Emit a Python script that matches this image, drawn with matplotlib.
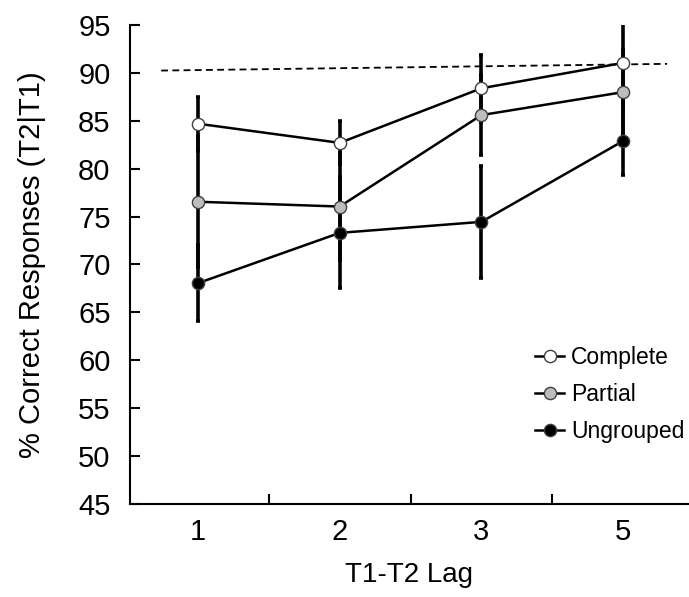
import matplotlib
matplotlib.use("Agg")
import matplotlib.pyplot as plt
import numpy as np

plt.rcParams['font.family'] = ['Liberation Sans', 'DejaVu Sans']

# data
lags = ['1', '2', '3', '5']
complete = [84.7, 82.7, 88.4, 91.05]
complete_err = [2.8, 2.25, 3.5, 4.2]
partial = [76.55, 76.05, 85.6, 88.0]
partial_err = [6.85, 5.6, 4.15, 4.4]
ungrouped = [68.05, 73.3, 74.45, 82.9]
ungrouped_err = [4.0, 5.8, 5.85, 3.55]

# dashed reference line (start / end)
ref_x = [-0.26, 3.31]
ref_y = [90.25, 90.95]

x = np.arange(len(lags))

fig = plt.figure(figsize=(6.89, 5.97), dpi=100)
ax = fig.add_axes([0.1887, 0.156, 0.8103, 0.802])

series = [
    ('Complete', complete, complete_err, 'white'),
    ('Partial', partial, partial_err, '#bdbdbd'),
    ('Ungrouped', ungrouped, ungrouped_err, 'black'),
]

for name, vals, err, fc in series:
    ax.errorbar(x, vals, yerr=err, fmt='none', ecolor='black',
                elinewidth=2.6, capsize=1.6, capthick=2.6, zorder=2)

ax.plot(ref_x, ref_y, color='black', lw=1.3, dashes=[3.8, 2.4], zorder=1)

for name, vals, err, fc in series:
    ax.plot(x, vals, color='black', lw=1.8, marker='o', markersize=8.8,
            markerfacecolor=fc, markeredgecolor='#404040', markeredgewidth=1.0,
            label=name, zorder=3)

ax.set_ylim(45, 95)
ax.set_yticks(np.arange(45, 96, 5))
ax.set_xlim(-0.48, 3.46)
ax.set_xticks(x)
ax.set_xticklabels(lags)
ax.set_xticks([0.5, 1.5, 2.5], minor=True)

for s in ['top', 'right']:
    ax.spines[s].set_visible(False)
for s in ['left', 'bottom']:
    ax.spines[s].set_linewidth(1.5)

ax.tick_params(axis='y', direction='in', length=7, width=1.5, pad=14, labelsize=21)
ax.tick_params(axis='x', which='major', length=0, pad=10, labelsize=21)
ax.tick_params(axis='x', which='minor', direction='in', length=7, width=1.5)

ax.set_xlabel('T1-T2 Lag', fontsize=20)
ax.set_ylabel('% Correct Responses (T2|T1)', fontsize=21)
ax.xaxis.set_label_coords(0.5, -0.122)
ax.yaxis.set_label_coords(-0.15, 0.5)

ax.legend(loc='upper left', bbox_to_anchor=(0.726, 0.33), frameon=False,
          fontsize=16.5, handlelength=1.25, handletextpad=0.3, labelspacing=0.62,
          borderpad=0, borderaxespad=0)

fig.savefig('out.png', dpi=100)
